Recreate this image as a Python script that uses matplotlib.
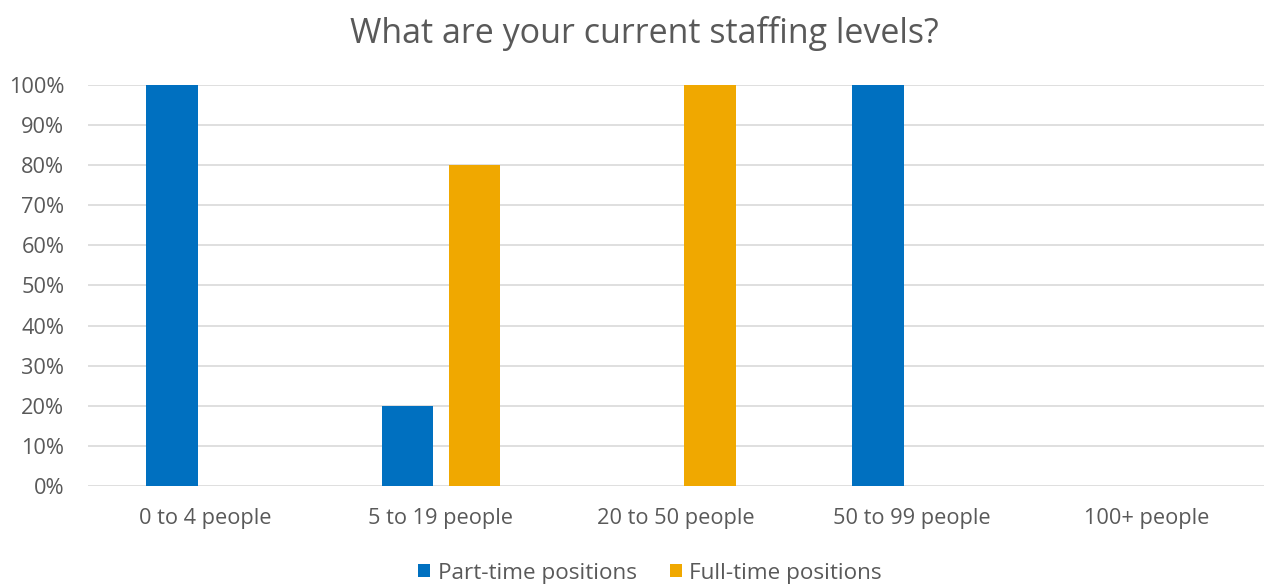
import numpy as np
import matplotlib.pyplot as plt
from matplotlib.ticker import PercentFormatter

# survey results, share of respondents per staffing band
categories = ["0 to 4 people", "5 to 19 people", "20 to 50 people",
              "50 to 99 people", "100+ people"]
part_time = [1.00, 0.20, 0.00, 1.00, 0.00]
full_time = [0.00, 0.80, 1.00, 0.00, 0.00]

blue = "#0070C0"
gold = "#F0A800"
text_col = "#595959"

plt.rcParams['font.family'] = ['Open Sans', 'DejaVu Sans']

fig = plt.figure(figsize=(12.65, 5.84), dpi=100)
ax = fig.add_axes([0.0696, 0.1678, 0.93, 0.6867])

x = np.arange(len(categories))
w = 0.22
off = 0.142
ax.bar(x - off, part_time, w, color=blue, label="Part-time positions", zorder=3)
ax.bar(x + off, full_time, w, color=gold, label="Full-time positions", zorder=3)

ax.set_xlim(-0.5, len(categories) - 0.5)
ax.set_ylim(0, 1)
ax.set_yticks(np.arange(0, 1.01, 0.1))
ax.yaxis.set_major_formatter(PercentFormatter(1.0, decimals=0))
ax.set_xticks(x)
ax.set_xticklabels(categories)
ax.tick_params(axis='both', length=0, colors=text_col, labelsize=15.7)
ax.tick_params(axis='x', pad=16)
ax.tick_params(axis='y', pad=17)
ax.grid(axis='y', color="#D9D9D9", linewidth=1.2, zorder=0)
for s in ax.spines.values():
    s.set_visible(False)

fig.suptitle("What are your current staffing levels?", x=0.509, y=0.972,
             fontsize=24.5, color=text_col)

fig.legend(loc='lower center', bbox_to_anchor=(0.514, -0.034), ncol=2,
           frameon=False, fontsize=16.2, labelcolor=text_col,
           handlelength=0.5, handleheight=0.5, handletextpad=0.35,
           columnspacing=1.5)

fig.savefig("out.png", dpi=100)
